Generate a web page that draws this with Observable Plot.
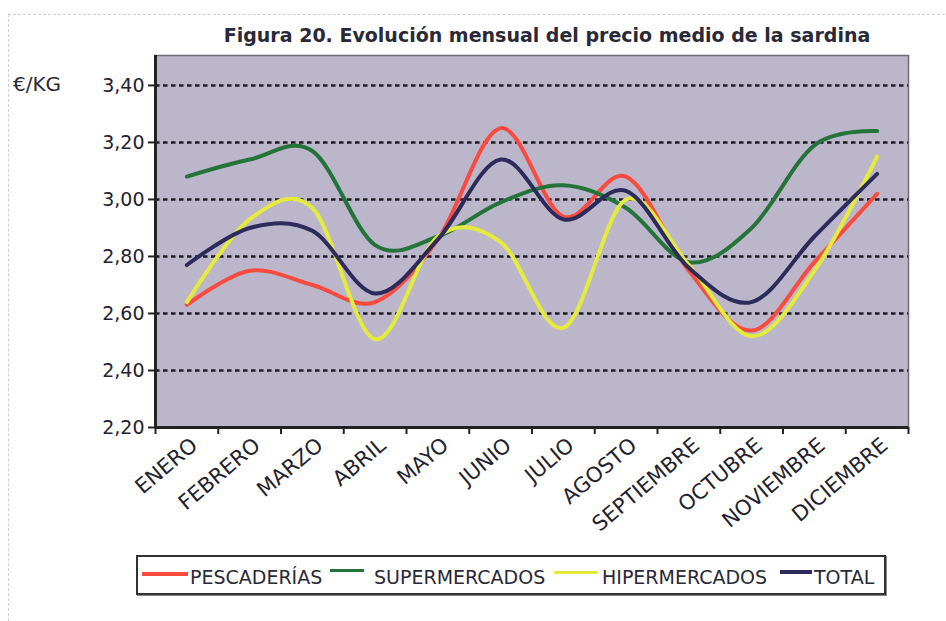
<!DOCTYPE html>
<html>
<head>
<meta charset="utf-8">
<script src="https://cdn.jsdelivr.net/npm/d3@7"></script>
<script src="https://cdn.jsdelivr.net/npm/@observablehq/plot@0.6"></script>
<style>
  body { margin: 0; background: #fff; }
  #wrap { position: relative; width: 946px; height: 621px; overflow: hidden; font-family: "DejaVu Sans", sans-serif; color: #23222e; }
  #frame { position: absolute; left: 8px; top: 14px; width: 960px; height: 640px; border: 1px dashed #c9cde2; }
  #title { position: absolute; left: 0; width: 1094px; top: 24px; text-align: center; font-weight: bold; font-size: 19px; color: #2a2938; white-space: nowrap; }
  #unit { position: absolute; left: 13px; top: 72px; font-size: 20px; color: #2a2938; }
  #chart { position: absolute; left: 0; top: 0; }
  #legend { position: absolute; left: 136px; top: 555px; width: 746px; height: 36px; border: 2px solid #333; box-shadow: 1px 1px 0 #888; font-size: 19px; color: #2a2938; }
  .sw { position: absolute; }
  .lab { position: absolute; top: 9px; white-space: nowrap; }
</style>
</head>
<body>
<div id="wrap">
  <div id="frame"></div>
  <div id="title"></div>
  <div id="unit"></div>
  <div id="chart"></div>
  <div id="legend"></div>
</div>
<script>
const titleText = "Figura 20. Evolución mensual del precio medio de la sardina";
const unitText = "€/KG";
const months = ["ENERO","FEBRERO","MARZO","ABRIL","MAYO","JUNIO","JULIO","AGOSTO","SEPTIEMBRE","OCTUBRE","NOVIEMBRE","DICIEMBRE"];
const seriesNames = ["PESCADERÍAS","SUPERMERCADOS","HIPERMERCADOS","TOTAL"];
const seriesColors = ["#fb4a3f","#24743a","#e3ec3b","#2d2a5c"];
const pescaderias   = [2.63, 2.75, 2.70, 2.64, 2.86, 3.25, 2.94, 3.08, 2.75, 2.54, 2.78, 3.02];
const supermercados = [3.08, 3.14, 3.17, 2.84, 2.87, 2.99, 3.05, 2.97, 2.78, 2.90, 3.19, 3.24];
const hipermercados = [2.64, 2.93, 2.97, 2.51, 2.87, 2.85, 2.55, 3.00, 2.77, 2.52, 2.75, 3.15];
const total         = [2.77, 2.90, 2.89, 2.67, 2.86, 3.14, 2.93, 3.03, 2.76, 2.64, 2.87, 3.09];
const yTicks = [2.2, 2.4, 2.6, 2.8, 3.0, 3.2, 3.4];

document.getElementById("title").textContent = titleText;
document.getElementById("unit").textContent = unitText;

const allSeries = [pescaderias, supermercados, hipermercados, total];
const rows = [];
allSeries.forEach((vals, s) => vals.forEach((v, i) => rows.push({series: seriesNames[s], i, v})));

const fmt = d => d.toFixed(2).replace(".", ",");

const plot = Plot.plot({
  width: 946,
  height: 621,
  marginLeft: 155,
  marginRight: 38,
  marginTop: 55,
  marginBottom: 194,
  style: {fontFamily: "DejaVu Sans, sans-serif", color: "#23222e", background: "transparent"},
  x: {type: "linear", domain: [-0.5, 11.5], label: null},
  y: {domain: [2.2, 3.505], label: null},
  color: {domain: seriesNames, range: seriesColors},
  marks: [
    Plot.frame({fill: "#bbb6c9", stroke: "#6e6a78", strokeWidth: 1.5}),
    Plot.ruleY(yTicks.filter(d => d > 2.2), {stroke: "#1c1b22", strokeWidth: 2.6, strokeDasharray: "4.5,3.5"}),
    Plot.line(rows, {x: "i", y: "v", z: "series", stroke: "series", strokeWidth: 4, curve: "cardinal", strokeLinecap: "round", strokeLinejoin: "round"}),
    Plot.ruleX([-0.5], {stroke: "#222", strokeWidth: 3}),
    Plot.ruleY([2.2], {stroke: "#222", strokeWidth: 3}),
    Plot.axisY({ticks: yTicks, tickFormat: fmt, tickSize: 7, tickPadding: 4, fontSize: 19, stroke: "#222", strokeWidth: 2, label: null}),
    Plot.axisX({ticks: d3.range(-0.5, 12, 1), tickFormat: () => "", tickSize: 7, stroke: "#222", strokeWidth: 2, label: null}),
    Plot.axisX({ticks: d3.range(12), tickFormat: i => months[i], tickSize: 0, tickRotate: -40, fontSize: 21, textAnchor: "end", lineAnchor: "bottom", dx: 12, dy: 20, tickPadding: 0, label: null})
  ]
});
document.getElementById("chart").appendChild(plot);

// legend layout (pixel positions relative to legend box)
const swLeft = [4, 192, 416, 642];
const swWidth = [46, 34, 44, 32];
const swTop = [15, 12, 14, 13];
const swH = [4, 3, 3, 4];
const labLeft = [52, 236, 464, 676];
const legend = document.getElementById("legend");
seriesNames.forEach((name, k) => {
  const sw = document.createElement("span");
  sw.className = "sw";
  sw.style.left = swLeft[k] + "px";
  sw.style.width = swWidth[k] + "px";
  sw.style.top = swTop[k] + "px";
  sw.style.height = swH[k] + "px";
  sw.style.background = seriesColors[k];
  const lab = document.createElement("span");
  lab.className = "lab";
  lab.style.left = labLeft[k] + "px";
  lab.textContent = name;
  legend.appendChild(sw);
  legend.appendChild(lab);
});
</script>
</body>
</html>
